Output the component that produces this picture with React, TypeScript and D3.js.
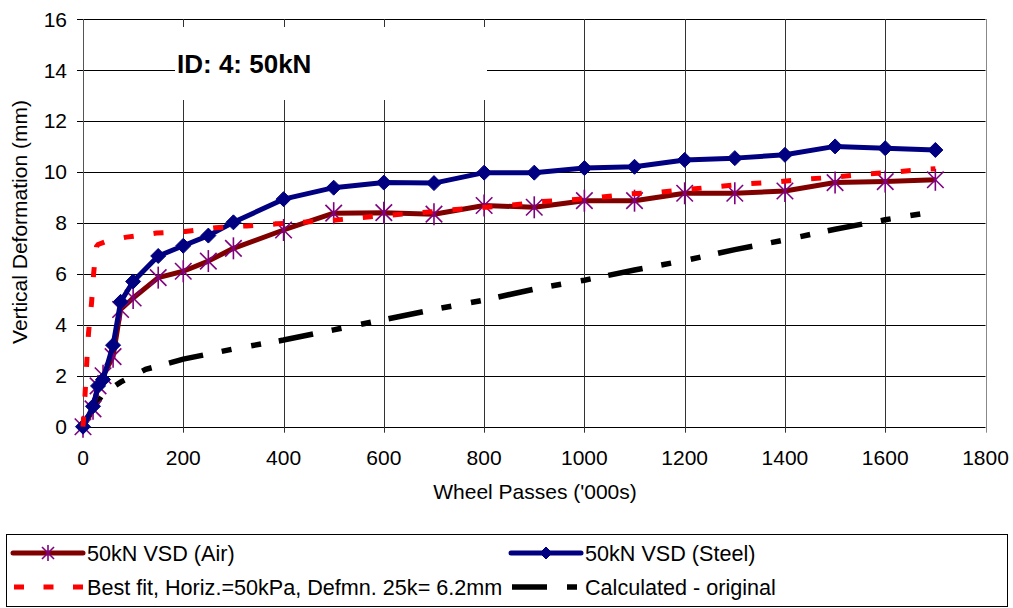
import React from "react";
import * as d3 from "d3";

const xTicks = [0, 200, 400, 600, 800, 1000, 1200, 1400, 1600, 1800];
const yTicks = [0, 2, 4, 6, 8, 10, 12, 14, 16];

const airX = [0, 20, 30, 40, 60, 75, 100, 150, 200, 250, 300, 400, 500, 600, 700, 800, 900, 1000, 1100, 1200, 1300, 1400, 1500, 1600, 1700];
const airY = [0, 0.7, 1.6, 2.0, 2.75, 4.6, 5.05, 5.85, 6.1, 6.5, 7.0, 7.72, 8.38, 8.4, 8.34, 8.68, 8.61, 8.87, 8.87, 9.16, 9.16, 9.25, 9.58, 9.62, 9.69];

const steelX = [0, 20, 30, 40, 60, 75, 100, 150, 200, 250, 300, 400, 500, 600, 700, 800, 900, 1000, 1100, 1200, 1300, 1400, 1500, 1600, 1700];
const steelY = [0, 0.8, 1.6, 1.85, 3.2, 4.9, 5.7, 6.7, 7.1, 7.5, 8.02, 8.93, 9.38, 9.58, 9.56, 9.97, 9.97, 10.15, 10.2, 10.47, 10.54, 10.67, 11.0, 10.93, 10.86];

const fitX = [0, 2, 4, 8, 11, 14, 17, 21, 24, 27, 30, 50, 87, 147, 204, 264, 327, 387, 500, 556, 616, 676, 736, 852, 913, 972, 1029, 1088, 1148, 1264, 1324, 1380, 1440, 1497, 1557, 1617, 1677, 1700];
const fitY = [0, 0.6, 1.24, 2.7, 3.67, 4.3, 4.84, 5.96, 6.6, 7.07, 7.15, 7.3, 7.44, 7.6, 7.66, 7.81, 7.88, 7.96, 8.1, 8.21, 8.31, 8.4, 8.51, 8.69, 8.83, 8.9, 9.0, 9.13, 9.2, 9.42, 9.53, 9.6, 9.71, 9.79, 9.91, 9.99, 10.1, 10.12];

const calcX = [0, 20, 40, 75, 125, 200, 300, 400, 500, 600, 700, 800, 900, 1000, 1100, 1200, 1300, 1400, 1500, 1600, 1700];
const calcY = [0, 0.7, 1.3, 1.75, 2.25, 2.65, 3.05, 3.4, 3.8, 4.2, 4.6, 4.97, 5.4, 5.75, 6.15, 6.52, 6.95, 7.33, 7.75, 8.12, 8.45];

const seriesNames = [
  "50kN VSD (Air)",
  "50kN VSD (Steel)",
  "Best fit, Horiz.=50kPa, Defmn. 25k= 6.2mm",
  "Calculated - original",
];
const chartTitle = "ID: 4: 50kN";
const xTitle = "Wheel Passes ('000s)";
const yTitle = "Vertical Deformation (mm)";

const FONT = "'Liberation Sans', Arial, sans-serif";
const FS = 21;
const LFS = 21.6;

function Star({ cx, cy, r }: { cx: number; cy: number; r: number }) {
  const d = r * 0.75;
  return (
    <g stroke="#800080" strokeWidth={1.6}>
      <line x1={cx - d} y1={cy - d} x2={cx + d} y2={cy + d} />
      <line x1={cx - d} y1={cy + d} x2={cx + d} y2={cy - d} />
      <line x1={cx} y1={cy - r} x2={cx} y2={cy + r} />
    </g>
  );
}

function Diamond({ cx, cy, r }: { cx: number; cy: number; r: number }) {
  return (
    <path
      d={`M${cx},${cy - r}L${cx + r},${cy}L${cx},${cy + r}L${cx - r},${cy}Z`}
      fill="#000080"
      stroke="#000080"
      strokeWidth={1}
    />
  );
}

export default function App() {
  const x = d3.scaleLinear().domain([0, 1800]).range([83, 985.5]);
  const y = d3.scaleLinear().domain([0, 16]).range([426.7, 19]);
  const line = d3
    .line<[number, number]>()
    .x((d) => x(d[0]))
    .y((d) => y(d[1]));

  const air = airX.map((v, i) => [v, airY[i]] as [number, number]);
  const steel = steelX.map((v, i) => [v, steelY[i]] as [number, number]);
  const fit = fitX.map((v, i) => [v, fitY[i]] as [number, number]);
  const calc = calcX.map((v, i) => [v, calcY[i]] as [number, number]);

  const x0 = x(0);
  const x1 = x(1800);
  const yb = y(0);
  const yt = y(16);

  return (
    <svg
      width={1013}
      height={608}
      style={{ position: "absolute", left: 0, top: 0, background: "#fff" }}
      fontFamily={FONT}
    >
      <rect x={0} y={0} width={1013} height={608} fill="#fff" />
      {yTicks.map((t) => (
        <line
          key={"h" + t}
          x1={x0 - 6}
          x2={x1}
          y1={Math.round(y(t)) + 0.5}
          y2={Math.round(y(t)) + 0.5}
          stroke="#000"
          strokeWidth={1}
        />
      ))}
      {xTicks.map((t) => (
        <line
          key={"v" + t}
          x1={Math.round(x(t)) + 0.5}
          x2={Math.round(x(t)) + 0.5}
          y1={yt}
          y2={yb + 6}
          stroke={t === 0 ? "#555" : t === 1800 ? "#888" : "#333"}
          strokeWidth={1}
        />
      ))}
      <rect x={175} y={27} width={312} height={73} fill="#fff" />
      <text x={177} y={73} fontSize={26} fontWeight="bold" fill="#000">
        {chartTitle}
      </text>

      {yTicks.map((t) => (
        <text
          key={"yl" + t}
          x={67}
          y={y(t)}
          dy="0.36em"
          textAnchor="end"
          fontSize={FS}
          fill="#000"
        >
          {t}
        </text>
      ))}
      {xTicks.map((t) => (
        <text
          key={"xl" + t}
          x={x(t)}
          y={464.5}
          textAnchor="middle"
          fontSize={FS}
          fill="#000"
        >
          {t}
        </text>
      ))}
      <text x={535} y={499} textAnchor="middle" fontSize={FS} fill="#000">
        {xTitle}
      </text>
      <text
        transform={`translate(27,222) rotate(-90)`}
        textAnchor="middle"
        fontSize={FS}
        fill="#000"
      >
        {yTitle}
      </text>

      <path d={line(calc) || ""} fill="none" stroke="#000" strokeWidth={5.5} strokeDasharray="35,19,10,20,10,18" />
      <path d={line(air) || ""} fill="none" stroke="#800000" strokeWidth={5} strokeLinejoin="round" />
      {air.map((d, i) => (
        <Star key={"s" + i} cx={x(d[0])} cy={y(d[1])} r={11} />
      ))}
      <path d={line(steel) || ""} fill="none" stroke="#000080" strokeWidth={5} strokeLinejoin="round" />
      {steel.map((d, i) => (
        <Diamond key={"d" + i} cx={x(d[0])} cy={y(d[1])} r={7.5} />
      ))}
      <path d={line(fit) || ""} fill="none" stroke="#ff0000" strokeWidth={5} strokeDasharray="10,20" />

      <rect x={6.5} y={534.5} width={1001} height={72} fill="none" stroke="#000" strokeWidth={1} />
      <line x1={13} x2={83} y1={553} y2={553} stroke="#800000" strokeWidth={5} strokeLinecap="round" />
      <Star cx={48} cy={553} r={8} />
      <text x={87} y={553} dy="0.36em" fontSize={LFS} fill="#000">
        {seriesNames[0]}
      </text>
      <line x1={511} x2={581} y1={553} y2={553} stroke="#000080" strokeWidth={5} strokeLinecap="round" />
      <Diamond cx={546} cy={553} r={6} />
      <text x={585} y={553} dy="0.36em" fontSize={LFS} fill="#000">
        {seriesNames[1]}
      </text>
      <line x1={14} x2={83} y1={587} y2={587} stroke="#ff0000" strokeWidth={5} strokeDasharray="10,19.5" />
      <text x={87} y={587} dy="0.36em" fontSize={LFS} fill="#000">
        {seriesNames[2]}
      </text>
      <line x1={512} x2={577} y1={587} y2={587} stroke="#000" strokeWidth={5.5} strokeDasharray="35,20,10,20" />
      <text x={585} y={587} dy="0.36em" fontSize={LFS} fill="#000">
        {seriesNames[3]}
      </text>
    </svg>
  );
}
